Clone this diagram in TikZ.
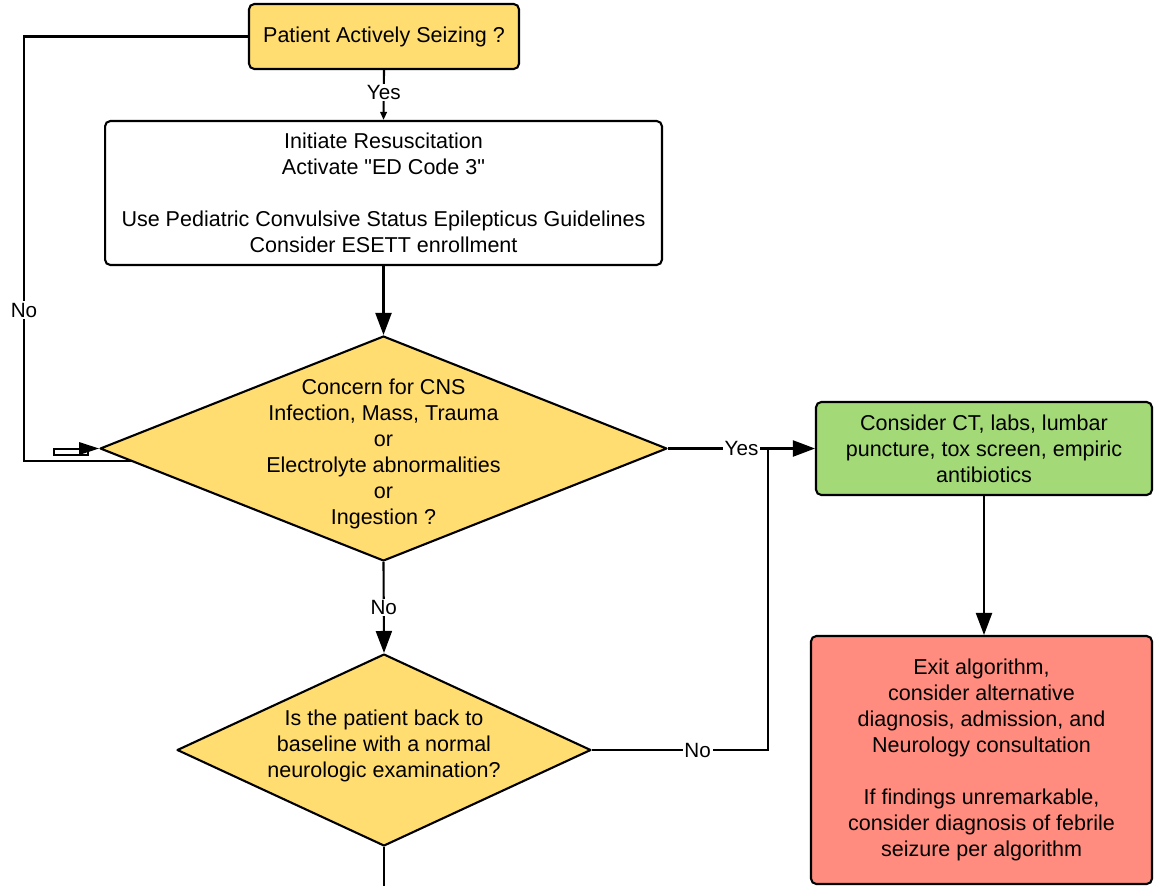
\documentclass[tikz,border=0pt]{standalone}
\usepackage{fontspec}
\setmainfont{Liberation Sans}
\usetikzlibrary{shapes.geometric,arrows.meta}
\definecolor{ylw}{HTML}{FFDD71}
\definecolor{grn}{HTML}{A3D977}
\definecolor{rd}{HTML}{FF8C7E}
\tikzset{
 txt/.style={align=center, font=\fontsize{12.25}{14.8}\selectfont},
 box/.style={txt, draw, line width=1.2pt, rounded corners=3pt},
 dia/.style={draw, diamond, line width=1.2pt, inner sep=0pt, line join=round},
 conn/.style={line width=1.2pt},
 arr/.style={conn, -{Triangle[length=0.44cm,width=0.32cm]}},
 smallarr/.style={conn, -{Triangle[length=0.16cm,width=0.13cm]}},
 lbl/.style={fill=white, inner sep=1pt, font=\fontsize{11.75}{13}\selectfont},
}
\begin{document}
\begin{tikzpicture}[x=0.02cm,y=-0.02cm]
\useasboundingbox (0,0) rectangle (1159,886);
\node[box, fill=ylw, minimum width=5.4cm, minimum height=1.3cm] (start) at (384,36.5) {Patient Actively Seizing ?};
\node[box, fill=white, minimum width=11.14cm, minimum height=2.88cm] (resus) at (383.5,193)
 {Initiate Resuscitation\\Activate \textquotedbl ED Code 3\textquotedbl\\[14.8pt]Use Pediatric Convulsive Status Epilepticus Guidelines\\Consider ESETT enrollment};
\node[dia, fill=ylw, minimum width=11.34cm, minimum height=4.5cm,
 label={[txt, yshift=-0.1cm]center:{Concern for CNS\\Infection, Mass, Trauma\\or\\Electrolyte abnormalities\\or\\Ingestion ?}}] (d1) at (383.5,448.5) {};
\node[box, fill=grn, minimum width=6.72cm, minimum height=1.86cm] (green) at (984,448.5)
 {Consider CT, labs, lumbar\\puncture, tox screen, empiric\\antibiotics};
\node[dia, fill=ylw, minimum width=8.28cm, minimum height=3.84cm,
 label={[txt, yshift=0.08cm]center:{Is the patient back to\\baseline with a normal\\neurologic examination?}}] (d2) at (384,750) {};
\node[box, fill=rd, minimum width=6.82cm, minimum height=4.96cm] (red) at (981.5,760)
 {Exit algorithm,\\consider alternative\\diagnosis, admission, and\\Neurology consultation\\[14.8pt]If findings unremarkable,\\consider diagnosis of febrile\\seizure per algorithm};
\coordinate (nocorner) at (24,461);
\coordinate (noend) at (131.5,461);
\coordinate (jn) at (768,448.5);
\coordinate (bottomend) at (384,886);
% connectors
\draw[smallarr] (start.south) -- node[lbl, pos=0.45]{Yes} (resus.north);
\draw[arr] (resus.south) -- (d1.north);
\draw[conn] (start.west) -| (nocorner) -- (noend);
\node[lbl] (nolbl) at (24,310) {No};
\draw[line width=0.9pt, fill=white] (54,449) rectangle (88,455);
\fill (d1.west) -- ++(-20,-6.5) -- ++(0,13) -- cycle;
\draw[arr] (d1.east) -- node[lbl]{Yes} (green.west);
\draw[conn] (d2.east) -- node[lbl, pos=0.6]{No} (d2.east -| jn) -- (jn);
\draw[arr] (d1.south) -- node[lbl]{No} (d2.north);
\draw[arr] (green.south) -- (green.south |- red.north);
\draw[conn] (d2.south) -- (bottomend);
\end{tikzpicture}
\end{document}
